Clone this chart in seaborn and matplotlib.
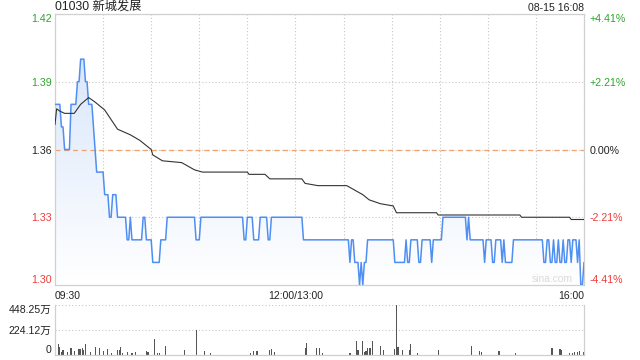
import numpy as np
import pandas as pd
import matplotlib
matplotlib.use('Agg')
from matplotlib import pyplot as plt
import seaborn as sns

sns.set_theme(style='white')
plt.rcParams['font.family'] = ['Liberation Sans', 'Noto Sans CJK SC', 'DejaVu Sans']

# price: minute where the price changes, and the new price
price_change_min = [0, 4, 6, 10, 14, 16, 19, 21, 24, 25, 26, 31, 34, 36, 39, 45, 47, 48,
                    55, 57, 61, 66, 70, 88, 91, 118, 120, 124, 128, 133, 135, 155,
                    184, 185, 187, 190, 191, 192, 193, 195, 212, 219, 220, 222, 227, 229,
                    235, 236, 242, 257, 258, 259, 268, 269, 273, 275, 279, 280, 281, 286,
                    305, 307, 309, 311, 312, 314, 315, 317, 318, 320, 322, 323, 326, 327, 328, 330]
price_change_val = [1.38, 1.37, 1.36, 1.38, 1.39, 1.40, 1.39, 1.38, 1.37, 1.36, 1.35, 1.34, 1.33, 1.34, 1.33, 1.32, 1.33, 1.32,
                    1.33, 1.32, 1.31, 1.32, 1.33, 1.32, 1.33, 1.32, 1.33, 1.32, 1.33, 1.32, 1.33, 1.32,
                    1.31, 1.32, 1.31, 1.30, 1.31, 1.30, 1.31, 1.32, 1.31, 1.32, 1.31, 1.32, 1.31, 1.32,
                    1.31, 1.32, 1.33, 1.32, 1.33, 1.32, 1.31, 1.32, 1.31, 1.32, 1.31, 1.32, 1.31, 1.32,
                    1.31, 1.32, 1.31, 1.32, 1.31, 1.32, 1.31, 1.32, 1.31, 1.32, 1.31, 1.32, 1.31, 1.32, 1.30, 1.31]

# average price line points
avg_min = [0, 1, 3, 6, 12, 16, 21, 25, 31, 39, 47, 53, 60, 61, 67, 79, 87, 92, 120, 121, 131, 134,
           154, 156, 164, 182, 187, 192, 196, 203, 211, 213, 238, 239, 290, 291, 321, 322, 330]
avg_val = [1.371, 1.378, 1.377, 1.376, 1.376, 1.380, 1.383, 1.381, 1.3775, 1.369, 1.3665, 1.364, 1.360,
           1.3576, 1.355, 1.3542, 1.351, 1.350, 1.350, 1.349, 1.349, 1.347, 1.347, 1.345, 1.344, 1.344,
           1.342, 1.340, 1.3377, 1.336, 1.335, 1.332, 1.332, 1.331, 1.331, 1.330, 1.330, 1.329, 1.329]

# volume (万) for minutes with visible bars
vol_min = [0, 2, 3, 4, 5, 8, 10, 12, 15, 16, 17, 18, 19, 22, 25, 28, 30, 33, 35, 39, 40, 41, 42, 45,
           48, 50, 57, 58, 62, 64, 65, 69, 81, 88, 93, 97, 122, 124, 126, 134, 135, 137, 156, 157,
           163, 165, 167, 184, 188, 189, 192, 193, 194, 195, 196, 197, 198, 203, 205, 212, 213, 214,
           217, 221, 222, 226, 239, 260, 265, 266, 277, 287, 310, 315, 316, 321, 323, 324, 326, 327, 330]
vol_val = [76, 95, 76, 30, 46, 30, 64, 34, 58, 58, 67, 49, 95, 30, 76, 67, 40, 58, 15, 49, 49, 76, 18, 30,
           18, 30, 40, 30, 140, 21, 18, 85, 49, 224, 40, 18, 18, 34, 40, 49, 58, 30, 64, 107,
           64, 64, 18, 18, 125, 49, 125, 24, 40, 67, 67, 67, 125, 85, 49, 58, 448.25, 76,
           49, 49, 95, 15, 49, 85, 40, 24, 40, 21, 67, 58, 49, 18, 18, 24, 24, 40, 24]

minutes = np.arange(0, 331)
idx = np.searchsorted(price_change_min, minutes, side='right') - 1
df_price = pd.DataFrame({'minute': minutes, 'price': np.array(price_change_val)[idx]})
df_avg = pd.DataFrame({'minute': avg_min, 'avg': avg_val})
df_vol = pd.DataFrame({'minute': vol_min, 'vol': vol_val})

prev_close = 1.36
y_ticks = [1.30, 1.33, 1.36, 1.39, 1.42]
green, red, dark = '#2da52d', '#f03c3c', '#222222'
grid_c = '#c8c8c8'

fig = plt.figure(figsize=(6.4, 3.6), dpi=100)
ax = fig.add_axes([55 / 640, 1 - 285 / 360, 529 / 640, 271 / 360])
axv = fig.add_axes([55 / 640, 1 - 355 / 360, 529 / 640, 50 / 360])

# gradient fill under the price line
poly = ax.fill_between(df_price['minute'], df_price['price'], 1.30, color='none', lw=0)
grad = np.linspace(1, 0, 256).reshape(-1, 1)
cmap = matplotlib.colors.LinearSegmentedColormap.from_list('g', ['#ffffff', '#d3e2fa'])
im = ax.imshow(grad, cmap=cmap, aspect='auto', extent=[0, 330, 1.30, 1.42], origin='upper', zorder=1)
im.set_clip_path(poly.get_paths()[0], transform=ax.transData)

sns.lineplot(data=df_price, x='minute', y='price', ax=ax, color='#4f8ff2', lw=1.1, zorder=3)
sns.lineplot(data=df_avg, x='minute', y='avg', ax=ax, color='#333333', lw=0.8, zorder=4)
ax.axhline(prev_close, color='#f2a16c', lw=0.9, ls=(0, (4, 3)), zorder=2)

ax.set_xlim(0, 330)
ax.set_ylim(1.30, 1.42)
ax.set_xticks(range(0, 331, 30))
ax.set_xticklabels(['09:30', '', '', '', '', '12:00/13:00', '', '', '', '', '', '16:00'], fontsize=7.5, color=dark)
xl = ax.get_xticklabels()
xl[0].set_ha('left')
xl[-1].set_ha('right')
ax.set_yticks(y_ticks)
ax.set_yticklabels(['%.2f' % v for v in y_ticks], fontsize=7.7)
ycols = [red, red, dark, green, green]
for lab, c in zip(ax.get_yticklabels(), ycols):
    lab.set_color(c)
ax.get_yticklabels()[0].set_va('bottom')
ax.get_yticklabels()[-1].set_va('top')
ax.tick_params(axis='x', length=0, pad=4)
ax.tick_params(axis='y', length=0, pad=2.5)
ax.grid(True, color=grid_c, ls=(0, (1, 2)), lw=0.8)
ax.set_xlabel('')
ax.set_ylabel('')
for s in ax.spines.values():
    s.set_color('#d0d0d0')
    s.set_linewidth(0.9)

axr = ax.twinx()
axr.set_ylim(1.30, 1.42)
axr.set_yticks(y_ticks)
pct = ['-4.41%', '-2.21%', '0.00%', '+2.21%', '+4.41%']
axr.set_yticklabels(pct, fontsize=7.7)
for lab, c in zip(axr.get_yticklabels(), ycols):
    lab.set_color(c)
axr.get_yticklabels()[0].set_va('bottom')
axr.get_yticklabels()[-1].set_va('top')
axr.tick_params(axis='y', length=0, pad=4)
for s in axr.spines.values():
    s.set_visible(False)

ax.text(0.979, 0.005, 'sina.com', transform=ax.transAxes, ha='right', va='bottom',
        fontsize=7.4, color='#dadada', zorder=5)

# volume panel
axv.bar(df_vol['minute'], df_vol['vol'], width=0.7, color='#555555', lw=0)
axv.set_xlim(0, 330)
axv.set_ylim(0, 448.25)
axv.set_yticks([0, 224.12, 448.25])
axv.set_yticklabels(['0', '224.12万', '448.25万'], fontsize=7.6, color=dark)
axv.get_yticklabels()[0].set_va('bottom')
axv.get_yticklabels()[-1].set_va('top')
axv.set_xticks([])
axv.tick_params(axis='y', length=0, pad=2.5)
axv.yaxis.grid(True, color=grid_c, ls=(0, (1, 2)), lw=0.8)
axv.set_xlabel('')
axv.set_ylabel('')
axv.spines['top'].set_visible(False)
for k in ['left', 'right', 'bottom']:
    axv.spines[k].set_color('#d0d0d0')
    axv.spines[k].set_linewidth(0.9)

fig.text(55 / 640, 1 - 8 / 360, '01030 新城发展', ha='left', va='center', fontsize=8.8, color=dark)
fig.text(584 / 640, 1 - 8 / 360, '08-15 16:08', ha='right', va='center', fontsize=7.6, color=dark)

fig.savefig('out.png', dpi=100)
